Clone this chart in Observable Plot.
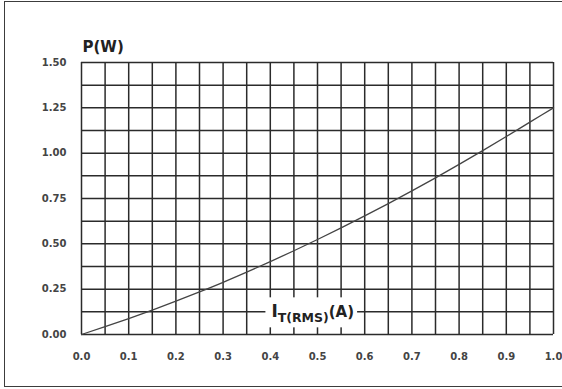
<!DOCTYPE html>
<html>
<head>
<meta charset="utf-8">
<script src="https://cdn.jsdelivr.net/npm/d3@7"></script>
<script src="https://cdn.jsdelivr.net/npm/@observablehq/plot@0.6"></script>
<style>
  html, body { margin: 0; padding: 0; background: #fff; }
  #wrap { position: relative; width: 562px; height: 389px; overflow: hidden; }
  #border { position: absolute; left: 4px; top: 1px; width: 620px; height: 384px; border: 1.6px solid #3c3c3c; }
  #chart { position: absolute; left: 0; top: 0; }
</style>
</head>
<body>
<div id="wrap"><div id="border"></div><div id="chart"></div></div>
<script>
// On-state RMS current (A) and dissipated power (W)
const current = [0, 0.05, 0.10, 0.15, 0.20, 0.25, 0.30, 0.35, 0.40, 0.45, 0.50,
                 0.55, 0.60, 0.65, 0.70, 0.75, 0.80, 0.85, 0.90, 0.95, 1.00];
const power = [0, 0.043, 0.088, 0.135, 0.184, 0.235, 0.288, 0.344, 0.402, 0.462, 0.524,
               0.588, 0.654, 0.722, 0.792, 0.864, 0.938, 1.014, 1.092, 1.171, 1.25];

// Axis ticks and grid
const xTicks = [0, 0.1, 0.2, 0.3, 0.4, 0.5, 0.6, 0.7, 0.8, 0.9, 1.0];
const yTicks = [0, 0.25, 0.5, 0.75, 1.0, 1.25, 1.5];
const xGrid = [0, 0.05, 0.1, 0.15, 0.2, 0.25, 0.3, 0.35, 0.4, 0.45, 0.5,
               0.55, 0.6, 0.65, 0.7, 0.75, 0.8, 0.85, 0.9, 0.95, 1.0];
const yGrid = [0, 0.125, 0.25, 0.375, 0.5, 0.625, 0.75, 0.875, 1.0, 1.125, 1.25, 1.375, 1.5];

// Axis titles
const yTitle = "P(W)";
const xTitleMain = "I";
const xTitleSub = "T(RMS)";
const xTitleUnit = "(A)";
const xTitleAt = [0.491, 0.125]; // placed on a grid row inside the frame

const curve = current.map((I, i) => ({I, P: power[i]}));
const ink = "#2b2b2b";

const plot = Plot.plot({
  width: 562,
  height: 389,
  marginLeft: 81,
  marginRight: 9,
  marginTop: 62,
  marginBottom: 55,
  style: {fontFamily: "DejaVu Sans", fontSize: "10px", fontWeight: "bold", color: "#444", background: "transparent"},
  x: {domain: [0, 1]},
  y: {domain: [0, 1.5]},
  marks: [
    Plot.ruleX(xGrid, {stroke: ink, strokeWidth: 1.5}),
    Plot.ruleY(yGrid, {stroke: ink, strokeWidth: 1.5}),
    Plot.line(curve, {x: "I", y: "P", curve: "monotone-x", stroke: "#444", strokeWidth: 1.3}),
    Plot.axisX(xTicks, {tickSize: 0, tickPadding: 18, tickFormat: d => d.toFixed(1), label: null}),
    Plot.axisY(yTicks, {tickSize: 0, tickPadding: 15, tickFormat: d => d.toFixed(2), label: null}),
    Plot.text([yTitle], {frameAnchor: "top-left", textAnchor: "start", lineAnchor: "bottom",
                         dx: 1, dy: -11, fontSize: 15, fontWeight: "bold", fill: "#222"})
  ]
});

document.getElementById("chart").appendChild(plot);

// Current axis title with subscript, on a white box over the grid
const xs = plot.scale("x"), ys = plot.scale("y");
const svg = d3.select(plot);
const g = svg.append("g");
const t = g.append("text")
  .attr("x", xs.apply(xTitleAt[0]))
  .attr("y", ys.apply(xTitleAt[1]) + 6)
  .attr("text-anchor", "middle")
  .attr("font-family", "DejaVu Sans")
  .attr("font-weight", "bold")
  .attr("fill", "#222");
t.append("tspan").attr("font-size", 17).text(xTitleMain);
t.append("tspan").attr("font-size", 12.5).attr("dy", 5).text(xTitleSub);
t.append("tspan").attr("font-size", 15).attr("dy", -5).text(xTitleUnit);
const bb = t.node().getBBox();
g.insert("rect", "text")
  .attr("x", bb.x - 6)
  .attr("y", bb.y - 4)
  .attr("width", bb.width + 9)
  .attr("height", bb.height + 6)
  .attr("fill", "#fff");
</script>
</body>
</html>
